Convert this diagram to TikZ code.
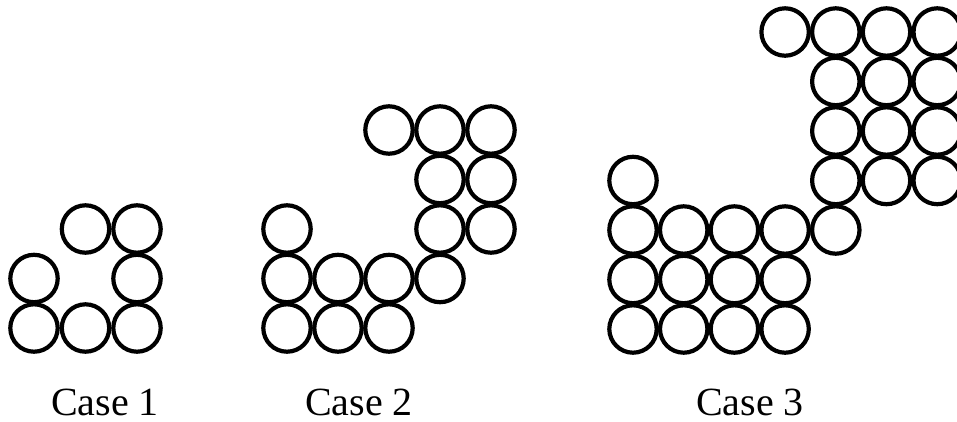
\documentclass[tikz,border=0pt]{standalone}
\usepackage{fontspec}
\setmainfont{Liberation Serif}
\begin{document}
\begin{tikzpicture}[x=1pt,y=-1pt,
  ball/.style={circle,draw=black,line width=4.2pt,inner sep=0pt,outer sep=0pt,minimum size=47.4pt},
  caselabel/.style={anchor=base,inner sep=0pt,font=\fontsize{40}{48}\selectfont}]
\useasboundingbox (0,0) rectangle (957,421);
% Case 1
\foreach \c/\r in {1/1,2/1,3/1,1/2,3/2,2/3,3/3}
  \node[ball] (a-\c-\r) at ({34+(\c-1)*51.5},{328-(\r-1)*49.5}) {};
% Case 2
\foreach \c/\r in {1/1,2/1,3/1,1/2,2/2,3/2,4/2,1/3,4/3,5/3,4/4,5/4,3/5,4/5,5/5}
  \node[ball] (b-\c-\r) at ({287+(\c-1)*51},{328-(\r-1)*49.5}) {};
% Case 3
\foreach \c/\r in {1/1,2/1,3/1,4/1,1/2,2/2,3/2,4/2,1/3,2/3,3/3,4/3,5/3,1/4,
                   5/4,6/4,7/4,5/5,6/5,7/5,5/6,6/6,7/6,4/7,5/7,6/7,7/7}
  \node[ball] (c-\c-\r) at ({633+(\c-1)*50.7},{329-(\r-1)*49.5}) {};
% Labels
\node[caselabel] (l1) at (105,415) {Case 1};
\node[caselabel] (l2) at (359,415) {Case 2};
\node[caselabel] (l3) at (750,415) {Case 3};
\end{tikzpicture}
\end{document}
